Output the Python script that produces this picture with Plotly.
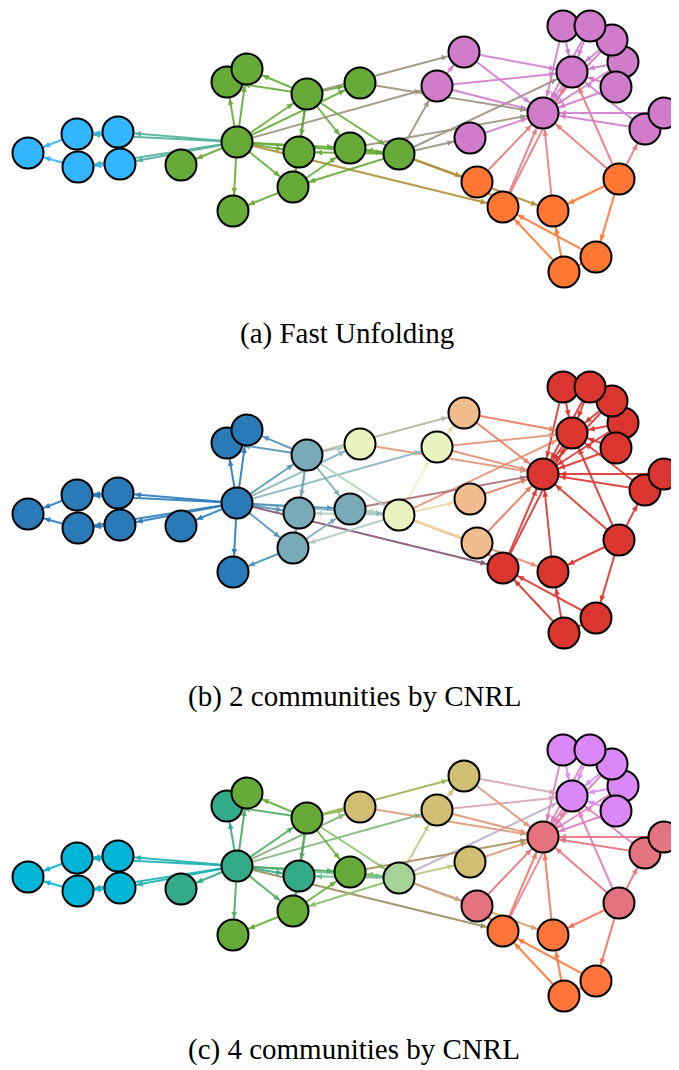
import math
import plotly.graph_objects as go

# ---------------- data ----------------
# node layout (shared by the three panels), pixel-like units, y grows downward
node_x = [237, 307, 399, 293, 118, 78, 77, 299, 437, 470, 120, 181, 233, 350, 623, 563, 28,
          227, 612, 360, 616, 247, 590, 619, 564, 596, 664, 553, 477, 645, 464, 503, 572, 543]
node_y = [142, 94, 154, 187, 132, 167, 134, 152, 86, 138, 164, 165, 211, 148, 62, 26, 153,
          82, 40, 83, 87, 69, 26, 179, 272, 257, 113, 211, 182, 129, 52, 207, 72, 113]

edge_src = [0, 0, 0, 0, 0, 0, 0, 0, 0, 0, 0, 0, 0, 0, 0, 0,
            1, 1, 1, 1, 1, 1, 1, 1,
            2, 2, 2, 2, 2, 2, 2, 2,
            3, 3, 3, 4, 4, 5, 10, 5, 6, 8, 8, 8,
            9, 13, 14, 14, 15, 15, 18, 18, 19, 20, 20, 22, 22,
            23, 23, 23, 23, 23, 24, 24, 24,
            25, 26, 26, 27, 28, 28, 29, 29, 30, 30, 31, 31, 32]
edge_dst = [1, 2, 3, 4, 5, 6, 7, 8, 10, 11, 12, 13, 17, 19, 21, 31,
            2, 3, 7, 13, 17, 19, 21, 30,
            3, 7, 8, 9, 13, 27, 28, 32,
            7, 12, 13, 6, 10, 6, 5, 16, 16, 30, 32, 33,
            33, 33, 32, 33, 32, 33, 32, 33, 33, 32, 33, 32, 33,
            25, 27, 29, 32, 33, 25, 27, 31,
            31, 29, 33, 33, 31, 33, 32, 33, 32, 33, 32, 33, 33]

draw_order = [i for i in range(34) if i != 26] + [26]

# panel (a) Fast Unfolding
palette_a = ["#33b5ff", "#66aa38", "#d07ccb", "#ff7733"]
groups_a = [1, 1, 1, 1, 0, 0, 0, 1, 2, 2, 0, 1, 1, 1, 2, 2, 0, 1, 2, 1, 2, 1, 2,
            3, 3, 3, 2, 3, 3, 2, 2, 3, 2, 2]
# panel (b) 2 communities by CNRL
palette_b = ["#2b7ab8", "#79aab7", "#e9f3c0", "#f1bd8f", "#db3530"]
groups_b = [0, 1, 2, 1, 0, 0, 0, 1, 2, 3, 0, 0, 0, 1, 4, 4, 0, 0, 4, 2, 4, 0, 4,
            4, 4, 4, 4, 4, 3, 4, 3, 4, 4, 4]
# panel (c) 4 communities by CNRL
palette_c = ["#00b5d6", "#33aa88", "#66ab37", "#d0bf72", "#a5d396", "#e5727f", "#da88f8", "#ff7539"]
groups_c = [1, 2, 4, 2, 0, 0, 0, 1, 3, 3, 0, 1, 2, 2, 6, 6, 0, 1, 6, 3, 6, 2, 6,
            5, 7, 7, 5, 7, 5, 5, 3, 7, 6, 5]

captions = ["(a) Fast Unfolding", "(b) 2 communities by CNRL", "(c) 4 communities by CNRL"]

# ---------------- layout helpers ----------------
PAGE_W, PAGE_H = 679, 1070
OFF = 8                      # default body margin of the html page
W, H = PAGE_W - OFF, PAGE_H - OFF
panel_top = [0, 361, 724]    # page-pixel top of each panel
PANEL_H = 300
caption_xy = [(347, 333), (354, 696), (354, 1049)]
NODE_R = 17


def hex_rgb(h):
    h = h.lstrip("#")
    return tuple(int(h[i:i + 2], 16) for i in (0, 2, 4))


def blend(c1, c2, alpha=0.9):
    a, b = hex_rgb(c1), hex_rgb(c2)
    m = [round((a[k] + b[k]) / 2) for k in range(3)]
    return f"rgba({m[0]},{m[1]},{m[2]},{alpha})"


fig = go.Figure()
panels = [(palette_a, groups_a), (palette_b, groups_b), (palette_c, groups_c)]

for p, (pal, grp) in enumerate(panels):
    xa = "x" if p == 0 else f"x{p + 1}"
    ya = "y" if p == 0 else f"y{p + 1}"
    colors = [pal[g] for g in grp]
    ah_x, ah_y, ah_ang, ah_col = [], [], [], []
    for s, t in zip(edge_src, edge_dst):
        col = blend(colors[s], colors[t])
        fig.add_trace(go.Scatter(x=[node_x[s], node_x[t]], y=[node_y[s], node_y[t]],
                                 mode="lines", line=dict(color=col, width=2),
                                 hoverinfo="skip", showlegend=False, xaxis=xa, yaxis=ya))
        dx = node_x[t] - node_x[s]
        dy = node_y[t] - node_y[s]
        d = math.hypot(dx, dy)
        ux, uy = dx / d, dy / d
        ah_x.append(node_x[t] - ux * NODE_R)
        ah_y.append(node_y[t] - uy * NODE_R)
        ah_ang.append(math.degrees(math.atan2(ux, -uy)))
        ah_col.append(col)
    fig.add_trace(go.Scatter(x=ah_x, y=ah_y, mode="markers",
                             marker=dict(symbol="arrow-up", size=6, angle=ah_ang,
                                         color=ah_col, line=dict(width=0)),
                             hoverinfo="skip", showlegend=False, xaxis=xa, yaxis=ya))
    fig.add_trace(go.Scatter(x=[node_x[i] for i in draw_order],
                             y=[node_y[i] for i in draw_order],
                             mode="markers",
                             marker=dict(size=31, color=[colors[i] for i in draw_order],
                                         line=dict(color="black", width=2), opacity=1),
                             hoverinfo="skip", showlegend=False, xaxis=xa, yaxis=ya))

    top = panel_top[p] - OFF
    dom = [(H - top - PANEL_H) / H, min(1.0, (H - top) / H)]
    y_hi = PANEL_H
    y_lo = 0 if top >= 0 else -top
    # keep 1 unit = 1 px: panel (a) starts 8 px above the figure top
    if top < 0:
        dom = [(H - (top + PANEL_H)) / H, 1.0]
    ax = dict(range=[OFF, OFF + W], domain=[0, 1], visible=False, fixedrange=True)
    ay = dict(range=[y_hi, y_lo], domain=dom, visible=False, fixedrange=True)
    if p == 0:
        fig.update_layout(xaxis=ax, yaxis=dict(ay, anchor="x"))
    else:
        fig.update_layout(**{f"xaxis{p + 1}": dict(ax, anchor=ya),
                             f"yaxis{p + 1}": dict(ay, anchor=xa)})
    cx, cy = caption_xy[p]
    fig.add_annotation(text=captions[p], x=(cx - OFF) / W, y=1 - (cy - OFF) / H,
                       xref="paper", yref="paper",
                       xanchor="center", yanchor="middle", showarrow=False,
                       font=dict(family="Liberation Serif, Times New Roman, serif", size=29,
                                 color="black"))

fig.update_layout(width=W, height=H, margin=dict(l=0, r=0, t=0, b=0),
                  paper_bgcolor="white", plot_bgcolor="white")
fig.write_html("out.html")
